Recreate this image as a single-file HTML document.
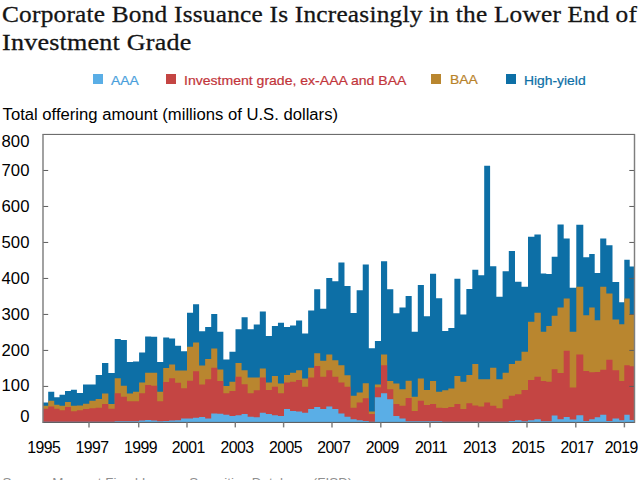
<!DOCTYPE html>
<html lang="en">
<head>
<meta charset="utf-8">
<title>Corporate Bond Issuance Is Increasingly in the Lower End of Investment Grade</title>
<style>
html,body{margin:0;padding:0;background:#fff;}
body{width:640px;height:480px;overflow:hidden;position:relative;font-family:"Liberation Sans",sans-serif;}
#title{position:absolute;left:1.9px;top:1px;margin:0;font-family:"Liberation Serif",serif;font-weight:normal;font-size:23.6px;line-height:27.5px;color:#141414;white-space:nowrap;}
#title span{display:block;transform-origin:0 0;letter-spacing:0.2px;-webkit-text-stroke:0.3px #141414;}
#t1{transform:scaleX(1.0735);}
#t2{transform:scaleX(1.105);}
#legend{position:absolute;left:0;top:0;width:640px;height:100px;font-size:13px;}
#legend span.sq{position:absolute;top:74.2px;width:10px;height:9.6px;margin-left:-0.4px;}
#legend span.tx{position:absolute;top:72.8px;white-space:nowrap;line-height:15px;transform-origin:0 0;transform:scaleX(1.066);-webkit-text-stroke:0.2px currentColor;}
#sub{position:absolute;left:2.6px;top:104.8px;font-size:16.65px;line-height:20px;color:#000;white-space:nowrap;}
#src{position:absolute;left:2.5px;top:475.5px;font-size:13.4px;line-height:14px;color:#8f8f8f;white-space:nowrap;}
svg{position:absolute;left:0;top:0;}
svg text{font-family:"Liberation Sans",sans-serif;font-size:16.7px;fill:#000;}
svg g.xl text{font-size:15.8px;letter-spacing:-0.55px;}
</style>
</head>
<body>
<h1 id="title"><span id="t1">Corporate Bond Issuance Is Increasingly in the Lower End of</span><span id="t2">Investment Grade</span></h1>
<div id="legend">
<span class="sq" style="left:93.3px;background:#5aaee6"></span><span class="tx" style="left:110.5px;color:#4a9fdc">AAA</span>
<span class="sq" style="left:166.8px;background:#c44543"></span><span class="tx" style="left:184.4px;color:#c2353b;transform:scaleX(1.08)">Investment grade, ex-AAA and BAA</span>
<span class="sq" style="left:431.8px;background:#b9862f"></span><span class="tx" style="left:449.8px;color:#b8822a;top:72.1px">BAA</span>
<span class="sq" style="left:506.2px;background:#0d6fa6"></span><span class="tx" style="left:524.2px;color:#0d6fa6">High-yield</span>
</div>
<div id="sub">Total offering amount (millions of U.S. dollars)</div>
<svg width="640" height="480" viewBox="0 0 640 480">
<g shape-rendering="auto">
<path d="M43.00 402.61 L48.20 402.61 L48.20 391.81 L54.25 391.81 L54.25 397.21 L59.50 397.21 L59.50 394.69 L65.00 394.69 L65.00 391.09 L70.90 391.09 L70.90 389.65 L76.90 389.65 L76.90 392.89 L83.00 392.89 L83.00 384.61 L89.30 384.61 L89.30 384.61 L95.65 384.61 L95.65 374.89 L102.00 374.89 L102.00 363.02 L108.35 363.02 L108.35 373.09 L114.70 373.09 L114.70 338.90 L120.80 338.90 L120.80 339.98 L126.90 339.98 L126.90 361.94 L133.00 361.94 L133.00 361.58 L139.10 361.58 L139.10 352.58 L145.12 352.58 L145.12 336.38 L151.15 336.38 L151.15 336.74 L157.17 336.74 L157.17 361.94 L163.20 361.94 L163.20 337.46 L169.15 337.46 L169.15 338.54 L175.10 338.54 L175.10 345.74 L181.05 345.74 L181.05 351.14 L187.00 351.14 L187.00 312.63 L193.05 312.63 L193.05 304.35 L199.10 304.35 L199.10 331.35 L205.15 331.35 L205.15 327.03 L211.20 327.03 L211.20 314.07 L217.27 314.07 L217.27 331.71 L223.35 331.71 L223.35 359.42 L229.43 359.42 L229.43 351.86 L235.50 351.86 L235.50 329.19 L241.57 329.19 L241.57 317.31 L247.65 317.31 L247.65 329.19 L253.73 329.19 L253.73 324.51 L259.80 324.51 L259.80 311.55 L265.85 311.55 L265.85 336.02 L271.90 336.02 L271.90 325.95 L277.95 325.95 L277.95 322.71 L284.00 322.71 L284.00 327.03 L290.04 327.03 L290.04 325.59 L296.07 325.59 L296.07 320.55 L302.11 320.55 L302.11 333.50 L308.15 333.50 L308.15 310.47 L314.19 310.47 L314.19 289.24 L320.23 289.24 L320.23 308.67 L326.26 308.67 L326.26 278.08 L332.30 278.08 L332.30 281.32 L338.39 281.32 L338.39 262.60 L344.48 262.60 L344.48 286.00 L350.56 286.00 L350.56 312.99 L356.65 312.99 L356.65 290.32 L362.74 290.32 L362.74 264.40 L368.82 264.40 L368.82 348.26 L374.91 348.26 L374.91 341.06 L381.00 341.06 L381.00 261.16 L387.15 261.16 L387.15 289.24 L393.30 289.24 L393.30 313.35 L399.45 313.35 L399.45 307.59 L405.60 307.59 L405.60 296.08 L411.70 296.08 L411.70 331.71 L417.80 331.71 L417.80 284.92 L423.90 284.92 L423.90 316.23 L430.00 316.23 L430.00 273.76 L436.10 273.76 L436.10 298.23 L442.20 298.23 L442.20 330.99 L448.30 330.99 L448.30 328.11 L454.40 328.11 L454.40 278.80 L460.38 278.80 L460.38 314.43 L466.35 314.43 L466.35 288.88 L472.32 288.88 L472.32 269.80 L478.30 269.80 L478.30 275.20 L484.20 275.20 L484.20 165.79 L490.10 165.79 L490.10 266.20 L496.35 266.20 L496.35 296.79 L502.60 296.79 L502.60 271.24 L508.80 271.24 L508.80 251.09 L515.00 251.09 L515.00 281.68 L521.50 281.68 L521.50 286.72 L528.00 286.72 L528.00 236.69 L534.40 236.69 L534.40 234.53 L540.80 234.53 L540.80 273.40 L546.25 273.40 L546.25 274.12 L551.70 274.12 L551.70 256.85 L557.50 256.85 L557.50 224.45 L563.70 224.45 L563.70 238.49 L569.70 238.49 L569.70 287.80 L576.30 287.80 L576.30 224.81 L583.30 224.81 L583.30 257.21 L589.20 257.21 L589.20 253.97 L594.70 253.97 L594.70 273.04 L600.20 273.04 L600.20 238.49 L606.30 238.49 L606.30 245.33 L612.50 245.33 L612.50 282.04 L619.20 282.04 L619.20 302.19 L624.30 302.19 L624.30 259.73 L629.70 259.73 L629.70 266.56 L634.50 266.56 L634.50 422.40 L43.00 422.40 Z" fill="#0d6fa6"/>
<path d="M43.00 405.84 L48.20 405.84 L48.20 400.81 L54.25 400.81 L54.25 404.76 L59.50 404.76 L59.50 405.84 L65.00 405.84 L65.00 401.89 L70.90 401.89 L70.90 405.84 L76.90 405.84 L76.90 405.48 L83.00 405.48 L83.00 403.69 L89.30 403.69 L89.30 400.81 L95.65 400.81 L95.65 399.01 L102.00 399.01 L102.00 393.61 L108.35 393.61 L108.35 404.05 L114.70 404.05 L114.70 378.13 L120.80 378.13 L120.80 385.69 L126.90 385.69 L126.90 393.61 L133.00 393.61 L133.00 391.81 L139.10 391.81 L139.10 382.45 L145.12 382.45 L145.12 372.73 L151.15 372.73 L151.15 372.73 L157.17 372.73 L157.17 391.81 L163.20 391.81 L163.20 368.06 L169.15 368.06 L169.15 364.46 L175.10 364.46 L175.10 370.57 L181.05 370.57 L181.05 370.57 L187.00 370.57 L187.00 346.82 L193.05 346.82 L193.05 342.50 L199.10 342.50 L199.10 365.54 L205.15 365.54 L205.15 359.06 L211.20 359.06 L211.20 348.62 L217.27 348.62 L217.27 369.49 L223.35 369.49 L223.35 386.05 L229.43 386.05 L229.43 381.73 L235.50 381.73 L235.50 363.02 L241.57 363.02 L241.57 370.21 L247.65 370.21 L247.65 377.41 L253.73 377.41 L253.73 377.41 L259.80 377.41 L259.80 368.41 L265.85 368.41 L265.85 382.45 L271.90 382.45 L271.90 375.97 L277.95 375.97 L277.95 383.53 L284.00 383.53 L284.00 374.89 L290.04 374.89 L290.04 372.73 L296.07 372.73 L296.07 370.21 L302.11 370.21 L302.11 378.49 L308.15 378.49 L308.15 367.70 L314.19 367.70 L314.19 353.30 L320.23 353.30 L320.23 360.86 L326.26 360.86 L326.26 354.38 L332.30 354.38 L332.30 360.14 L338.39 360.14 L338.39 365.18 L344.48 365.18 L344.48 375.25 L350.56 375.25 L350.56 395.77 L356.65 395.77 L356.65 392.53 L362.74 392.53 L362.74 383.17 L368.82 383.17 L368.82 411.60 L374.91 411.60 L374.91 384.61 L381.00 384.61 L381.00 354.38 L387.15 354.38 L387.15 381.01 L393.30 381.01 L393.30 383.53 L399.45 383.53 L399.45 389.29 L405.60 389.29 L405.60 380.65 L411.70 380.65 L411.70 396.85 L417.80 396.85 L417.80 378.49 L423.90 378.49 L423.90 390.01 L430.00 390.01 L430.00 381.01 L436.10 381.01 L436.10 391.81 L442.20 391.81 L442.20 390.37 L448.30 390.37 L448.30 388.57 L454.40 388.57 L454.40 375.97 L460.38 375.97 L460.38 381.73 L466.35 381.73 L466.35 374.89 L472.32 374.89 L472.32 364.10 L478.30 364.10 L478.30 379.21 L484.20 379.21 L484.20 379.21 L490.10 379.21 L490.10 367.70 L496.35 367.70 L496.35 379.21 L502.60 379.21 L502.60 372.73 L508.80 372.73 L508.80 364.10 L515.00 364.10 L515.00 360.86 L521.50 360.86 L521.50 351.86 L528.00 351.86 L528.00 321.63 L534.40 321.63 L534.40 312.63 L540.80 312.63 L540.80 331.71 L546.25 331.71 L546.25 325.95 L551.70 325.95 L551.70 315.87 L557.50 315.87 L557.50 307.59 L563.70 307.59 L563.70 298.59 L569.70 298.59 L569.70 331.71 L576.30 331.71 L576.30 286.72 L583.30 286.72 L583.30 315.15 L589.20 315.15 L589.20 307.59 L594.70 307.59 L594.70 320.19 L600.20 320.19 L600.20 286.72 L606.30 286.72 L606.30 293.56 L612.50 293.56 L612.50 319.47 L619.20 319.47 L619.20 324.15 L624.30 324.15 L624.30 298.59 L629.70 298.59 L629.70 314.43 L634.50 314.43 L634.50 422.40 L43.00 422.40 Z" fill="#b9862f"/>
<path d="M43.00 408.72 L48.20 408.72 L48.20 406.56 L54.25 406.56 L54.25 408.72 L59.50 408.72 L59.50 410.16 L65.00 410.16 L65.00 406.92 L70.90 406.92 L70.90 411.24 L76.90 411.24 L76.90 410.16 L83.00 410.16 L83.00 409.08 L89.30 409.08 L89.30 408.36 L95.65 408.36 L95.65 407.64 L102.00 407.64 L102.00 404.05 L108.35 404.05 L108.35 408.72 L114.70 408.72 L114.70 393.25 L120.80 393.25 L120.80 396.85 L126.90 396.85 L126.90 401.17 L133.00 401.17 L133.00 401.17 L139.10 401.17 L139.10 393.25 L145.12 393.25 L145.12 384.97 L151.15 384.97 L151.15 385.69 L157.17 385.69 L157.17 401.17 L163.20 401.17 L163.20 382.09 L169.15 382.09 L169.15 378.13 L175.10 378.13 L175.10 382.81 L181.05 382.81 L181.05 388.21 L187.00 388.21 L187.00 380.65 L193.05 380.65 L193.05 371.29 L199.10 371.29 L199.10 384.61 L205.15 384.61 L205.15 379.21 L211.20 379.21 L211.20 367.70 L217.27 367.70 L217.27 381.01 L223.35 381.01 L223.35 393.25 L229.43 393.25 L229.43 391.09 L235.50 391.09 L235.50 376.69 L241.57 376.69 L241.57 384.25 L247.65 384.25 L247.65 393.25 L253.73 393.25 L253.73 390.37 L259.80 390.37 L259.80 377.41 L265.85 377.41 L265.85 390.01 L271.90 390.01 L271.90 386.77 L277.95 386.77 L277.95 393.25 L284.00 393.25 L284.00 382.45 L290.04 382.45 L290.04 381.73 L296.07 381.73 L296.07 379.93 L302.11 379.93 L302.11 386.77 L308.15 386.77 L308.15 377.41 L314.19 377.41 L314.19 365.90 L320.23 365.90 L320.23 376.69 L326.26 376.69 L326.26 370.21 L332.30 370.21 L332.30 376.69 L338.39 376.69 L338.39 382.45 L344.48 382.45 L344.48 386.77 L350.56 386.77 L350.56 407.64 L356.65 407.64 L356.65 402.61 L362.74 402.61 L362.74 398.29 L368.82 398.29 L368.82 414.12 L374.91 414.12 L374.91 387.13 L381.00 387.13 L381.00 365.18 L387.15 365.18 L387.15 389.29 L393.30 389.29 L393.30 404.05 L399.45 404.05 L399.45 405.84 L405.60 405.84 L405.60 397.93 L411.70 397.93 L411.70 410.88 L417.80 410.88 L417.80 400.81 L423.90 400.81 L423.90 405.12 L430.00 405.12 L430.00 404.05 L436.10 404.05 L436.10 407.64 L442.20 407.64 L442.20 408.00 L448.30 408.00 L448.30 406.92 L454.40 406.92 L454.40 404.05 L460.38 404.05 L460.38 409.08 L466.35 409.08 L466.35 403.33 L472.32 403.33 L472.32 405.48 L478.30 405.48 L478.30 406.56 L484.20 406.56 L484.20 402.61 L490.10 402.61 L490.10 405.84 L496.35 405.84 L496.35 408.36 L502.60 408.36 L502.60 399.37 L508.80 399.37 L508.80 395.77 L515.00 395.77 L515.00 394.33 L521.50 394.33 L521.50 390.01 L528.00 390.01 L528.00 379.93 L534.40 379.93 L534.40 376.69 L540.80 376.69 L540.80 381.01 L546.25 381.01 L546.25 381.73 L551.70 381.73 L551.70 369.13 L557.50 369.13 L557.50 373.09 L563.70 373.09 L563.70 350.78 L569.70 350.78 L569.70 387.49 L576.30 387.49 L576.30 354.38 L583.30 354.38 L583.30 370.93 L589.20 370.93 L589.20 372.37 L594.70 372.37 L594.70 372.01 L600.20 372.01 L600.20 369.85 L606.30 369.85 L606.30 359.78 L612.50 359.78 L612.50 370.21 L619.20 370.21 L619.20 381.01 L624.30 381.01 L624.30 365.18 L629.70 365.18 L629.70 366.26 L634.50 366.26 L634.50 422.40 L43.00 422.40 Z" fill="#c44543"/>
<path d="M43.00 421.68 L48.20 421.68 L48.20 421.68 L54.25 421.68 L54.25 421.68 L59.50 421.68 L59.50 421.68 L65.00 421.68 L65.00 421.86 L70.90 421.86 L70.90 421.86 L76.90 421.86 L76.90 421.86 L83.00 421.86 L83.00 421.86 L89.30 421.86 L89.30 421.86 L95.65 421.86 L95.65 421.86 L102.00 421.86 L102.00 421.86 L108.35 421.86 L108.35 421.86 L114.70 421.86 L114.70 421.32 L120.80 421.32 L120.80 421.32 L126.90 421.32 L126.90 421.32 L133.00 421.32 L133.00 421.32 L139.10 421.32 L139.10 420.60 L145.12 420.60 L145.12 419.88 L151.15 419.88 L151.15 420.60 L157.17 420.60 L157.17 421.32 L163.20 421.32 L163.20 420.96 L169.15 420.96 L169.15 420.60 L175.10 420.60 L175.10 420.24 L181.05 420.24 L181.05 418.44 L187.00 418.44 L187.00 418.44 L193.05 418.44 L193.05 417.72 L199.10 417.72 L199.10 417.00 L205.15 417.00 L205.15 418.44 L211.20 418.44 L211.20 413.40 L217.27 413.40 L217.27 413.76 L223.35 413.76 L223.35 414.84 L229.43 414.84 L229.43 415.92 L235.50 415.92 L235.50 415.20 L241.57 415.20 L241.57 414.12 L247.65 414.12 L247.65 416.64 L253.73 416.64 L253.73 417.36 L259.80 417.36 L259.80 412.68 L265.85 412.68 L265.85 414.12 L271.90 414.12 L271.90 415.20 L277.95 415.20 L277.95 415.92 L284.00 415.92 L284.00 409.08 L290.04 409.08 L290.04 410.88 L296.07 410.88 L296.07 411.60 L302.11 411.60 L302.11 412.68 L308.15 412.68 L308.15 409.08 L314.19 409.08 L314.19 406.92 L320.23 406.92 L320.23 409.08 L326.26 409.08 L326.26 406.56 L332.30 406.56 L332.30 409.08 L338.39 409.08 L338.39 413.40 L344.48 413.40 L344.48 416.64 L350.56 416.64 L350.56 419.16 L356.65 419.16 L356.65 420.24 L362.74 420.24 L362.74 420.96 L368.82 420.96 L368.82 421.68 L374.91 421.68 L374.91 397.21 L381.00 397.21 L381.00 393.25 L387.15 393.25 L387.15 399.37 L393.30 399.37 L393.30 415.92 L399.45 415.92 L399.45 418.44 L405.60 418.44 L405.60 421.32 L411.70 421.32 L411.70 421.32 L417.80 421.32 L417.80 421.32 L423.90 421.32 L423.90 421.32 L430.00 421.32 L430.00 421.32 L436.10 421.32 L436.10 421.32 L442.20 421.32 L442.20 421.68 L448.30 421.68 L448.30 421.68 L454.40 421.68 L454.40 421.68 L460.38 421.68 L460.38 421.68 L466.35 421.68 L466.35 421.68 L472.32 421.68 L472.32 421.68 L478.30 421.68 L478.30 421.68 L484.20 421.68 L484.20 421.68 L490.10 421.68 L490.10 421.68 L496.35 421.68 L496.35 421.68 L502.60 421.68 L502.60 421.68 L508.80 421.68 L508.80 420.96 L515.00 420.96 L515.00 420.24 L521.50 420.24 L521.50 421.32 L528.00 421.32 L528.00 420.24 L534.40 420.24 L534.40 419.16 L540.80 419.16 L540.80 421.32 L546.25 421.32 L546.25 421.32 L551.70 421.32 L551.70 415.56 L557.50 415.56 L557.50 419.16 L563.70 419.16 L563.70 417.00 L569.70 417.00 L569.70 419.52 L576.30 419.52 L576.30 415.20 L583.30 415.20 L583.30 420.96 L589.20 420.96 L589.20 419.16 L594.70 419.16 L594.70 417.36 L600.20 417.36 L600.20 414.84 L606.30 414.84 L606.30 420.96 L612.50 420.96 L612.50 418.44 L619.20 418.44 L619.20 420.24 L624.30 420.24 L624.30 414.84 L629.70 414.84 L629.70 419.88 L634.50 419.88 L634.50 422.40 L43.00 422.40 Z" fill="#5aaee6"/>
</g>
<g stroke="#5c5c5c" stroke-width="1">
<line x1="42.4" y1="134.4" x2="635.1" y2="134.4"/>
<line x1="42.4" y1="422.4" x2="635.1" y2="422.4"/>
<line x1="43.00" y1="386.41" x2="48.20" y2="386.41"/>
<line x1="629.30" y1="386.41" x2="634.50" y2="386.41"/>
<line x1="43.00" y1="350.42" x2="48.20" y2="350.42"/>
<line x1="629.30" y1="350.42" x2="634.50" y2="350.42"/>
<line x1="43.00" y1="314.43" x2="48.20" y2="314.43"/>
<line x1="629.30" y1="314.43" x2="634.50" y2="314.43"/>
<line x1="43.00" y1="278.44" x2="48.20" y2="278.44"/>
<line x1="629.30" y1="278.44" x2="634.50" y2="278.44"/>
<line x1="43.00" y1="242.45" x2="48.20" y2="242.45"/>
<line x1="629.30" y1="242.45" x2="634.50" y2="242.45"/>
<line x1="43.00" y1="206.46" x2="48.20" y2="206.46"/>
<line x1="629.30" y1="206.46" x2="634.50" y2="206.46"/>
<line x1="43.00" y1="170.47" x2="48.20" y2="170.47"/>
<line x1="629.30" y1="170.47" x2="634.50" y2="170.47"/>
</g>
<g stroke="#7e7e7e" stroke-width="1.45">
<line x1="43.0" y1="134.4" x2="43.0" y2="422.4"/>
<line x1="634.5" y1="134.4" x2="634.5" y2="422.4"/>
<line x1="89.00" y1="422.40" x2="89.00" y2="427.40"/>
<line x1="138.70" y1="422.40" x2="138.70" y2="427.40"/>
<line x1="187.00" y1="422.40" x2="187.00" y2="427.40"/>
<line x1="235.30" y1="422.40" x2="235.30" y2="427.40"/>
<line x1="283.60" y1="422.40" x2="283.60" y2="427.40"/>
<line x1="332.00" y1="422.40" x2="332.00" y2="427.40"/>
<line x1="380.80" y1="422.40" x2="380.80" y2="427.40"/>
<line x1="430.00" y1="422.40" x2="430.00" y2="427.40"/>
<line x1="478.50" y1="422.40" x2="478.50" y2="427.40"/>
<line x1="527.00" y1="422.40" x2="527.00" y2="427.40"/>
<line x1="575.80" y1="422.40" x2="575.80" y2="427.40"/>
<line x1="624.40" y1="422.40" x2="624.40" y2="427.40"/>
</g>
<g>
<text x="20.3" y="421.50">0</text>
<text x="1.6" y="390.91">100</text>
<text x="1.6" y="355.52">200</text>
<text x="1.6" y="319.53">300</text>
<text x="1.6" y="283.54">400</text>
<text x="1.6" y="247.55">500</text>
<text x="1.6" y="211.56">600</text>
<text x="1.6" y="175.57">700</text>
<text x="1.6" y="146.50">800</text>
</g>
<g class="xl">
<text x="43.70" y="452.8" text-anchor="middle">1995</text>
<text x="92.00" y="452.8" text-anchor="middle">1997</text>
<text x="140.50" y="452.8" text-anchor="middle">1999</text>
<text x="188.20" y="452.8" text-anchor="middle">2001</text>
<text x="237.00" y="452.8" text-anchor="middle">2003</text>
<text x="285.50" y="452.8" text-anchor="middle">2005</text>
<text x="333.70" y="452.8" text-anchor="middle">2007</text>
<text x="382.20" y="452.8" text-anchor="middle">2009</text>
<text x="431.00" y="452.8" text-anchor="middle">2011</text>
<text x="479.60" y="452.8" text-anchor="middle">2013</text>
<text x="528.10" y="452.8" text-anchor="middle">2015</text>
<text x="577.00" y="452.8" text-anchor="middle">2017</text>
<text x="621.20" y="452.8" text-anchor="middle">2019</text>
</g>
</svg>
<div id="src">Source: Mergent Fixed Income Securities Database (FISD).</div>
</body>
</html>
